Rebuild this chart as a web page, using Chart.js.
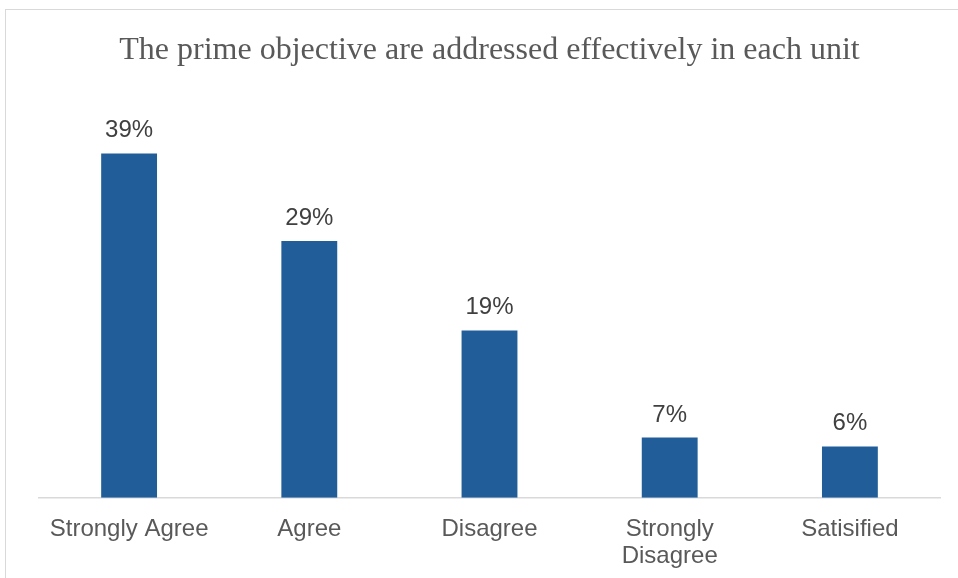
<!DOCTYPE html>
<html>
<head>
<meta charset="utf-8">
<script src="https://cdn.jsdelivr.net/npm/chart.js@4"></script>
<style>
  html, body { margin: 0; padding: 0; background: #fff; }
  #wrap { width: 958px; height: 578px; position: relative; }
</style>
</head>
<body>
<div id="wrap"><canvas id="chart"></canvas></div>
<script>
const categories = [["Strongly Agree"], ["Agree"], ["Disagree"], ["Strongly", "Disagree"], ["Satisified"]];
const shares = [38.9, 29.0, 18.9, 6.8, 5.8];
const titleText = "The prime objective are addressed effectively in each unit";

// frame around the whole chart
const framePlugin = {
  id: "frame",
  beforeDraw(chart) {
    const ctx = chart.ctx;
    ctx.save();
    ctx.fillStyle = "#ffffff";
    ctx.fillRect(0, 0, chart.width, chart.height);
    ctx.strokeStyle = "#d9d9d9";
    ctx.lineWidth = 1;
    ctx.strokeRect(5.5, 9.5, chart.width + 20, chart.height + 20);
    ctx.restore();
  },
};

// value labels above the bars
const valueLabels = {
  id: "valueLabels",
  afterDatasetsDraw(chart) {
    const ctx = chart.ctx;
    const meta = chart.getDatasetMeta(0);
    ctx.save();
    ctx.font = "24px 'Liberation Sans', Arial, sans-serif";
    ctx.fillStyle = "#404040";
    ctx.textAlign = "center";
    ctx.textBaseline = "alphabetic";
    meta.data.forEach((bar, i) => {
      ctx.fillText(Math.round(shares[i]) + "%", bar.x, bar.y - 16);
    });
    ctx.restore();
  },
};

new Chart(document.getElementById("chart"), {
  type: "bar",
  plugins: [framePlugin, valueLabels],
  data: {
    labels: categories,
    datasets: [
      {
        data: shares,
        backgroundColor: "#215d99",
        barPercentage: 0.31,
        categoryPercentage: 1,
      },
    ],
  },
  options: {
    responsive: true,
    maintainAspectRatio: false,
    animation: false,
    layout: { padding: { left: 39, right: 18, top: 0, bottom: -10 } },
    plugins: {
      legend: { display: false },
      tooltip: { enabled: false },
      title: {
        display: true,
        text: titleText,
        color: "#595959",
        font: { family: "'Liberation Serif', 'Times New Roman', serif", size: 32, weight: "normal" },
        padding: { top: 31, bottom: 30 },
      },
    },
    scales: {
      x: {
        grid: { display: false, drawTicks: false },
        border: { display: true, color: "#d9d9d9", width: 1.5 },
        ticks: {
          color: "#595959",
          padding: 18,
          maxRotation: 0,
          autoSkip: false,
          font: { family: "'Liberation Sans', Arial, sans-serif", size: 24, lineHeight: 1.13 },
        },
      },
      y: {
        display: false,
        min: 0,
        max: 45,
      },
    },
  },
});
</script>
</body>
</html>
